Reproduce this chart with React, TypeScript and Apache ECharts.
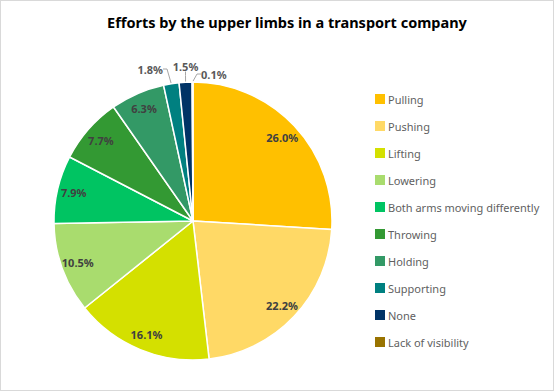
import React, { useEffect, useRef } from "react";
import * as echarts from "echarts";

const categories = [
  "Pulling",
  "Pushing",
  "Lifting",
  "Lowering",
  "Both arms moving differently",
  "Throwing",
  "Holding",
  "Supporting",
  "None",
  "Lack of visibility",
];
const shares = [26.0, 22.2, 16.1, 10.5, 7.9, 7.7, 6.3, 1.8, 1.5, 0.1];
const colors = [
  "#FFC000",
  "#FFD966",
  "#D4E000",
  "#A9DC6E",
  "#00C462",
  "#339933",
  "#339966",
  "#008080",
  "#003366",
  "#997300",
];
const outsideFrom = 7;

// placement of the small-slice callouts above the pie
const calloutSpots: Record<number, { x: number; y: number; align: string }> = {
  7: { x: 162, y: 68, align: "right" },
  8: { x: 184.5, y: 65, align: "center" },
  9: { x: 200, y: 73, align: "left" },
};

const FONT = "'Noto Sans', 'Open Sans', sans-serif";

export default function App() {
  const ref = useRef<HTMLDivElement>(null);
  useEffect(() => {
    if (!ref.current) return;
    const chart = echarts.init(ref.current, undefined, { renderer: "svg" });
    const center = [192, 220];
    const radius = 139;

    const mainData = categories.map((name, i) => ({
      name,
      value: shares[i],
      itemStyle: { color: colors[i] },
      label: { show: i >= outsideFrom },
      labelLine: { show: i >= outsideFrom },
    }));

    // transparent ring that carries the in-slice labels further out
    const ringData = categories.map((name, i) => ({
      name,
      value: shares[i],
      itemStyle: { color: "rgba(0,0,0,0)" },
      label: { show: i < outsideFrom },
    }));

    chart.setOption({
      animation: false,
      title: {
        text: "Efforts by the upper limbs in a transport company",
        left: 281,
        textAlign: "center",
        top: 8,
        textStyle: { fontFamily: FONT, fontSize: 14.5, fontWeight: "bold", color: "#000" },
      },
      legend: {
        orient: "vertical",
        left: 367,
        top: 86,
        itemWidth: 12,
        itemHeight: 12,
        itemGap: 13,
        icon: "rect",
        data: categories,
        textStyle: { fontFamily: FONT, fontSize: 11, color: "#5f5f5f", padding: [0, 0, 0, -3] },
      },
      series: [
        {
          type: "pie",
          center,
          radius,
          startAngle: 90,
          clockwise: true,
          silent: true,
          itemStyle: { borderColor: "#fff", borderWidth: 1.5 },
          label: {
            position: "outside",
            formatter: (p: any) => p.value.toFixed(1) + "%",
            fontFamily: FONT,
            fontSize: 11,
            fontWeight: "bold",
            color: "#595959",
          },
          labelLine: { length: 6, length2: 4, lineStyle: { color: "#a6a6a6", width: 1 } },
          labelLayout: (p: any) => {
            const spot = calloutSpots[p.dataIndex];
            if (!spot) return {};
            return { x: spot.x, y: spot.y, align: spot.align, verticalAlign: "middle" };
          },
          data: mainData,
        },
        {
          type: "pie",
          center,
          radius: [radius * 0.72, radius],
          startAngle: 90,
          clockwise: true,
          silent: true,
          legendHoverLink: false,
          label: {
            position: "inside",
            align: "center",
            formatter: (p: any) => p.value.toFixed(1) + "%",
            fontFamily: FONT,
            fontSize: 11,
            fontWeight: "bold",
            color: "#404040",
          },
          labelLine: { show: false },
          data: ringData,
        },
      ],
    });
    return () => chart.dispose();
  }, []);

  return (
    <div
      style={{
        position: "absolute",
        left: 0,
        top: 0,
        width: 554,
        height: 391,
        boxSizing: "border-box",
        border: "1px solid #d9d9d9",
        background: "#fff",
      }}
    >
      <div ref={ref} style={{ width: 552, height: 389 }} />
    </div>
  );
}
